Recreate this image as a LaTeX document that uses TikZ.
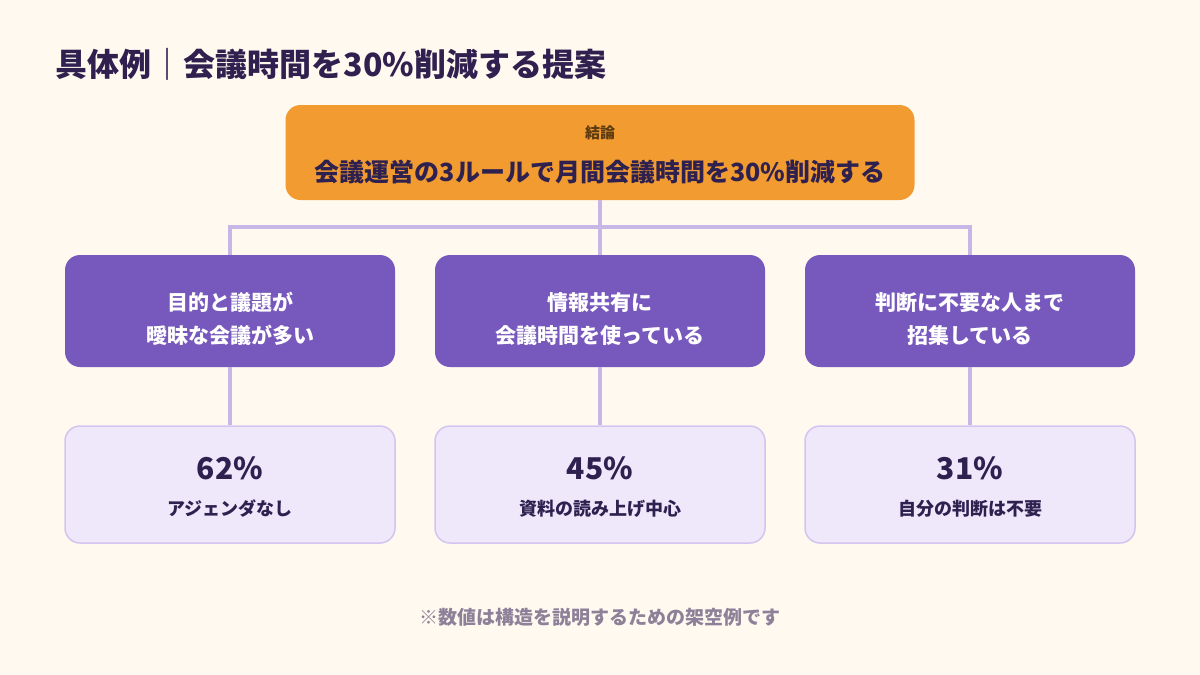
\documentclass[tikz,border=0pt]{standalone}
\usepackage{fontspec}
\setmainfont{Noto Sans CJK JP}
\usetikzlibrary{positioning}

\definecolor{bgcream}{HTML}{FFF9EF}
\definecolor{inkdark}{HTML}{2E2150}
\definecolor{conclorange}{HTML}{F29B30}
\definecolor{conclbrown}{HTML}{5B3A12}
\definecolor{causepurple}{HTML}{7758BD}
\definecolor{factfill}{HTML}{EFE7FA}
\definecolor{factline}{HTML}{D3C5EF}
\definecolor{linkline}{HTML}{C8B6E6}
\definecolor{notegray}{HTML}{8B8299}

\begin{document}
\begin{tikzpicture}[x=1pt, y=-1pt,
	conclusion/.style={rectangle, rounded corners=15pt, fill=conclorange, minimum width=629pt, minimum height=95pt, inner sep=0pt},
	cause/.style={rectangle, rounded corners=15pt, fill=causepurple, minimum width=330pt, minimum height=112pt, inner sep=0pt},
	causetext/.style={text=white, align=center, font=\fontsize{21}{33}\selectfont\bfseries},
	fact/.style={rectangle, rounded corners=15pt, fill=factfill, draw=factline, line width=1.5pt, minimum width=330pt, minimum height=117pt, inner sep=0pt},
	factnum/.style={text=inkdark, font=\fontsize{30}{34}\selectfont\bfseries},
	factdesc/.style={text=inkdark, font=\fontsize{18}{22}\selectfont\bfseries},
	link/.style={draw=linkline, line width=4pt}]
	\fill[bgcream] (0,0) rectangle (1200,675);
	\useasboundingbox (0,0) rectangle (1200,675);

	\node[anchor=base west, text=inkdark, font=\fontsize{32}{36}\selectfont\bfseries] (title) at (52,76) {具体例｜会議時間を30\%削減する提案};

	\node[conclusion] (concl) at (600,152.5) {};
	\node[text=conclbrown, font=\fontsize{15}{18}\selectfont\bfseries] (conclhead) at (600,133) {結論};
	\node[text=inkdark, font=\fontsize{25}{30}\selectfont\bfseries] (concltext) at (600,172) {会議運営の3ルールで月間会議時間を30\%削減する};

	\coordinate (bus) at (600,227);

	\node[cause] (cause1) at (230,311) {};
	\node[cause] (cause2) at (600,311) {};
	\node[cause] (cause3) at (970,311) {};
	\node[causetext] (causetext1) at (230,319) {目的と議題が\\曖昧な会議が多い};
	\node[causetext] (causetext2) at (600,319) {情報共有に\\会議時間を使っている};
	\node[causetext] (causetext3) at (970,319) {判断に不要な人まで\\招集している};

	\node[fact] (fact1) at (230,484.5) {};
	\node[fact] (fact2) at (600,484.5) {};
	\node[fact] (fact3) at (970,484.5) {};

	\node[factnum] (num1) at (230,468) {62\%};
	\node[factdesc] (desc1) at (230,509) {アジェンダなし};
	\node[factnum] (num2) at (600,468) {45\%};
	\node[factdesc] (desc2) at (600,509) {資料の読み上げ中心};
	\node[factnum] (num3) at (970,468) {31\%};
	\node[factdesc] (desc3) at (970,509) {自分の判断は不要};

	\draw[link] (concl.south) -- (bus);
	\draw[link] (cause1.north) |- (bus);
	\draw[link] (cause2.north) -- (bus);
	\draw[link] (cause3.north) |- (bus);

	\draw[link] (cause1.south) -- (fact1.north);
	\draw[link] (cause2.south) -- (fact2.north);
	\draw[link] (cause3.south) -- (fact3.north);

	\node[text=notegray, font=\fontsize{19}{22}\selectfont\bfseries] (note) at (600,617) {※数値は構造を説明するための架空例です};
\end{tikzpicture}
\end{document}
